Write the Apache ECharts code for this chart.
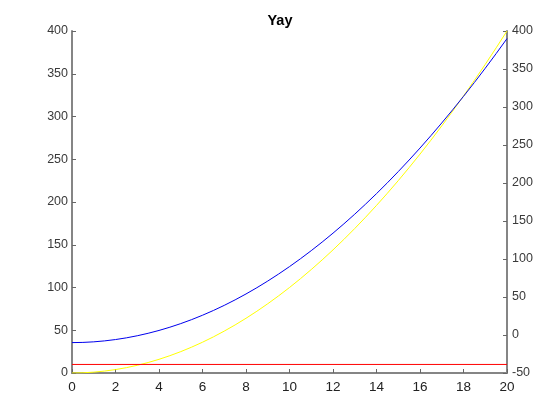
<!DOCTYPE html>
<html>
<head>
<meta charset="utf-8">
<script src="https://cdn.jsdelivr.net/npm/echarts@6/dist/echarts.min.js"></script>
<style>
html,body{margin:0;padding:0;background:#fff;}
#c{width:560px;height:420px;}
</style>
</head>
<body>
<div id="c"></div>
<script>
const titleText = 'Yay';
const xValues = [0,0.5,1,1.5,2,2.5,3,3.5,4,4.5,5,5.5,6,6.5,7,7.5,8,8.5,9,9.5,10,10.5,11,11.5,12,12.5,13,13.5,14,14.5,15,15.5,16,16.5,17,17.5,18,18.5,19,19.5,20];
const yellowValues = [0,0.25,1,2.25,4,6.25,9,12.25,16,20.25,25,30.25,36,42.25,49,56.25,64,72.25,81,90.25,100,110.25,121,132.25,144,156.25,169,182.25,196,210.25,225,240.25,256,272.25,289,306.25,324,342.25,361,380.25,400];
const blueValues = [-10,-9.75,-9,-7.75,-6,-3.75,-1,2.25,6,10.25,15,20.25,26,32.25,39,46.25,54,62.25,71,80.25,90,100.25,111,122.25,134,146.25,159,172.25,186,200.25,215,230.25,246,262.25,279,296.25,314,332.25,351,370.25,390];
const redValues = [10,10];
const redX = [0,20];
const xTicks = {min:0, max:20, interval:2};
const leftTicks = {min:0, max:400, interval:50};
const rightTicks = {min:-50, max:400, interval:50};

const pairs = (xs, ys) => xs.map((x,i)=>[x, ys[i]]);
const axisColor = '#858585';
const font = 'Liberation Sans, Arial, Helvetica, sans-serif';

const chart = echarts.init(document.getElementById('c'), null, {renderer:'canvas'});
chart.setOption({
  animation:false,
  backgroundColor:'#fff',
  title:{text:titleText, left:'center', top:8, textStyle:{fontSize:14.5, fontWeight:'bold', color:'#000', fontFamily:font}},
  grid:{left:72, right:53, top:31, bottom:47, containLabel:false},
  xAxis:{type:'value', min:xTicks.min, max:xTicks.max, interval:xTicks.interval,
    axisLine:{show:true, onZero:false, lineStyle:{color:axisColor, width:2}},
    axisTick:{show:true, inside:true, length:4, lineStyle:{color:'#666'}},
    axisLabel:{color:'#222', fontSize:13.5, margin:7, fontFamily:font},
    splitLine:{show:false}},
  yAxis:[
    {type:'value', position:'left', min:leftTicks.min, max:leftTicks.max, interval:leftTicks.interval,
      axisLine:{show:true, onZero:false, lineStyle:{color:axisColor, width:2}},
      axisTick:{show:true, inside:true, length:4, lineStyle:{color:'#666'}},
      axisLabel:{color:'#3a3a3a', fontSize:12.5, margin:4, fontFamily:font},
      splitLine:{show:false}},
    {type:'value', position:'right', min:rightTicks.min, max:rightTicks.max, interval:rightTicks.interval,
      axisLine:{show:true, onZero:false, lineStyle:{color:axisColor, width:2}},
      axisTick:{show:true, inside:true, length:4, lineStyle:{color:'#666'}},
      axisLabel:{color:'#3a3a3a', fontSize:12.5, margin:5, fontFamily:font},
      splitLine:{show:false}}
  ],
  series:[
    {type:'line', yAxisIndex:1, data:pairs(xValues, blueValues), showSymbol:false, symbol:'none', lineStyle:{color:'#0000ee', width:1}, z:3},
    {type:'line', yAxisIndex:0, data:pairs(xValues, yellowValues), showSymbol:false, symbol:'none', lineStyle:{color:'#ffff00', width:1}, z:2},
    {type:'line', yAxisIndex:0, data:pairs(redX, redValues), showSymbol:false, symbol:'none', lineStyle:{color:'#ff0000', width:1}, z:2}
  ]
});
</script>
</body>
</html>
